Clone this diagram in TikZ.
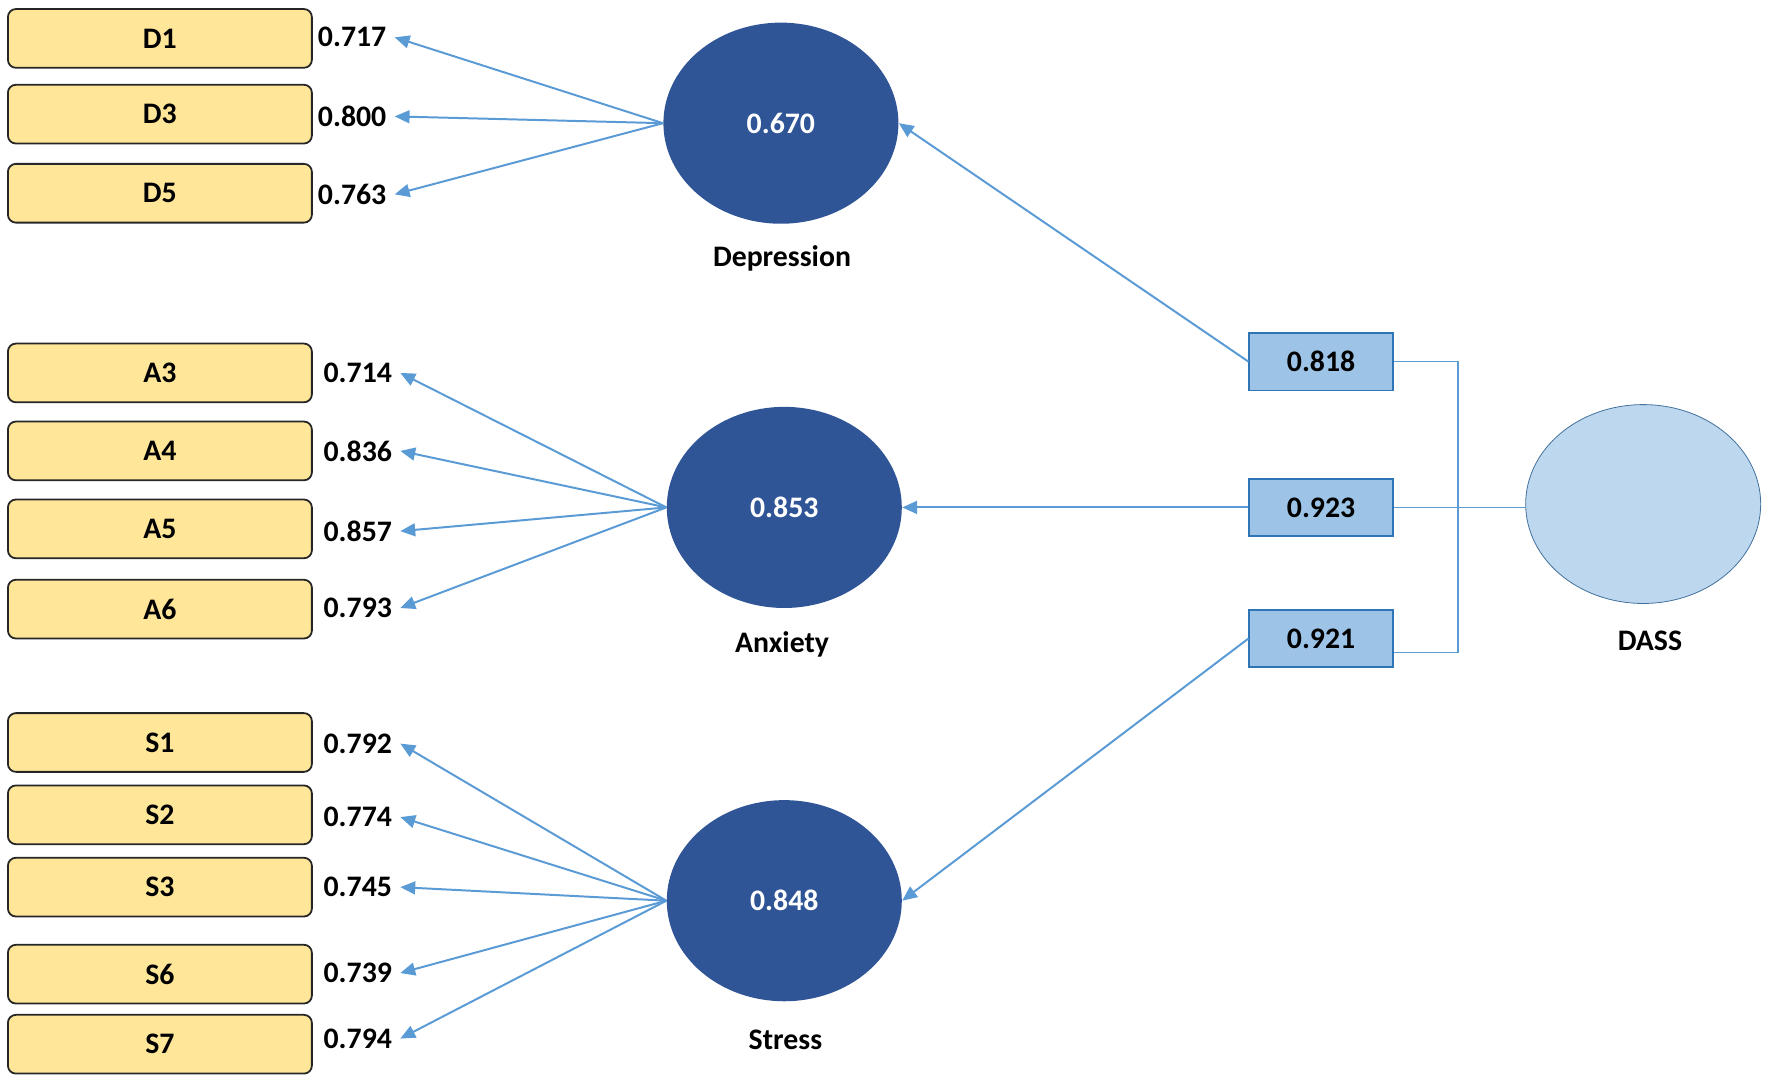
\documentclass[tikz,border=0pt]{standalone}
\usepackage{fontspec}
\setmainfont{Carlito}
\usetikzlibrary{shapes.geometric,arrows.meta}

\definecolor{itemfill}{HTML}{FFE699}
\definecolor{lineblue}{HTML}{5B9BD5}
\definecolor{factorblue}{HTML}{2F5597}
\definecolor{weightfill}{HTML}{9DC3E6}
\definecolor{weightline}{HTML}{2E75B6}
\definecolor{dassfill}{HTML}{BDD7EE}
\definecolor{dassline}{HTML}{41719C}

\begin{document}
\begin{tikzpicture}[x=0.02cm,y=-0.02cm,font=\fontsize{15}{18}\selectfont\bfseries,
  load/.style={draw=lineblue,line width=1pt,-{Triangle[length=7.5pt,width=6.5pt]}},
  link/.style={draw=lineblue,line width=0.8pt}]

    % `item' will be used by the observed variables.
    % `factor' will refer to the latent variables.
    % `weight' is used for the second order loadings.
    \tikzstyle{item} = [draw=black!85,fill=itemfill,rounded corners=4pt,minimum width=5.38cm,minimum height=1.04cm,line width=0.9pt]
    \tikzstyle{value} = [anchor=west,inner sep=4pt]
    \tikzstyle{factor} = [ellipse,fill=factorblue,text=white,minimum width=4.16cm,minimum height=3.56cm,inner sep=0pt]
    \tikzstyle{weight} = [draw=weightline,fill=weightfill,minimum width=2.54cm,minimum height=1.02cm,line width=0.9pt]
    %
    \useasboundingbox (0,0) rectangle (1568,960);

    % Depression items.
    \node[item] (D1) at (141.5,34) {D1};
    \node[item] (D3) at (141.5,101) {D3};
    \node[item] (D5) at (141.5,171) {D5};
    \node[value] (vD1) at (274,33) {0.717};
    \node[value] (vD3) at (274,103) {0.800};
    \node[value] (vD5) at (274,172) {0.763};

    % Anxiety items.
    \node[item] (A3) at (141.5,330) {A3};
    \node[item] (A4) at (141.5,399) {A4};
    \node[item] (A5) at (141.5,468) {A5};
    \node[item] (A6) at (141.5,539) {A6};
    \node[value] (vA3) at (279,330) {0.714};
    \node[value] (vA4) at (279,399) {0.836};
    \node[value] (vA5) at (279,470) {0.857};
    \node[value] (vA6) at (279,538) {0.793};

    % Stress items.
    \node[item] (S1) at (141.5,657) {S1};
    \node[item] (S2) at (141.5,721) {S2};
    \node[item] (S3) at (141.5,785) {S3};
    \node[item] (S6) at (141.5,862) {S6};
    \node[item] (S7) at (141.5,924) {S7};
    \node[value] (vS1) at (279,658) {0.792};
    \node[value] (vS2) at (279,723) {0.774};
    \node[value] (vS3) at (279,785) {0.745};
    \node[value] (vS6) at (279,861) {0.739};
    \node[value] (vS7) at (279,919) {0.794};

    % Latent variables.
    \node[factor] (Dep) at (691,109) {0.670};
    \node[factor] (Anx) at (694,449) {0.853};
    \node[factor] (Str) at (694,797) {0.848};
    \node (DepName) at (692,229) {Depression};
    \node (AnxName) at (692,570) {Anxiety};
    \node (StrName) at (695,920) {Stress};

    % Second order.
    \node[weight] (w1) at (1169,320) {0.818};
    \node[weight] (w2) at (1169,449) {0.923};
    \node[weight] (w3) at (1169,565) {0.921};
    \node[ellipse,draw=dassline,fill=dassfill,minimum width=4.16cm,minimum height=3.52cm] (DASS) at (1454,446) {};
    \node (DASSName) at (1460,567) {DASS};
    \coordinate (bus) at (1290,449);

    % Draw lines.
    \draw[load] (Dep.west) -- (vD1.east);
    \draw[load] (Dep.west) -- (vD3.east);
    \draw[load] (Dep.west) -- (vD5.east);
    \draw[load] (Anx.west) -- (vA3.east);
    \draw[load] (Anx.west) -- (vA4.east);
    \draw[load] (Anx.west) -- (vA5.east);
    \draw[load] (Anx.west) -- (vA6.east);
    \draw[load] (Str.west) -- (vS1.east);
    \draw[load] (Str.west) -- (vS2.east);
    \draw[load] (Str.west) -- (vS3.east);
    \draw[load] (Str.west) -- (vS6.east);
    \draw[load] (Str.west) -- (vS7.east);
    \draw[load] (w1.west) -- (Dep.east);
    \draw[load] (w2.west) -- (Anx.east);
    \draw[load] (w3.west) -- (Str.east);
    \draw[link] (w1.east) -| (bus) |- ([yshift=-7]w3.east);
    \draw[link] (w2.east) -- (w2.east -| DASS.west);
    %
\end{tikzpicture}
\end{document}
